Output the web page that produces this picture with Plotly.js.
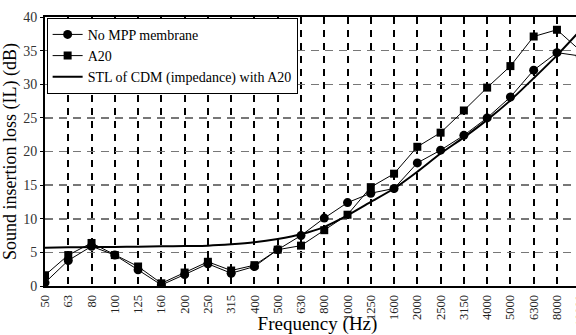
<!DOCTYPE html>
<html>
<head>
<meta charset="utf-8">
<script src="https://cdn.plot.ly/plotly-3.0.1.min.js"></script>
<style>
html, body { margin: 0; padding: 0; overflow: hidden; background: #fff; width: 576px; height: 335px; }
#chart { width: 600px; height: 335px; }
</style>
</head>
<body>
<div id="chart"></div>
<script>
const freqLabels = ["50","63","80","100","125","160","200","250","315","400","500","630","800","1000","1250","1600","2000","2500","3150","4000","5000","6300","8000","10000"];
const noMpp = [0.5,3.8,5.9,4.6,2.4,0.15,1.7,3.3,1.9,2.9,5.4,7.5,10.1,12.4,13.8,14.5,18.3,20.2,22.4,25.0,28.1,32.1,34.7,34.2];
const a20   = [1.6,4.6,6.4,4.6,2.9,0.4,2.0,3.6,2.3,3.1,5.4,6.0,8.3,10.6,14.7,16.7,20.7,22.8,26.1,29.5,32.7,37.1,38.1,35.0];
const stl   = [5.7,5.75,5.8,5.8,5.85,5.9,5.95,6.0,6.2,6.5,7.0,7.7,8.8,10.5,12.5,14.5,17.0,19.7,22.1,24.7,27.6,30.9,34.3,38.0];
const names = ["No MPP membrane","A20","STL of CDM (impedance) with A20"];

const serif = "Liberation Serif";
const traces = [
  {x: freqLabels, y: noMpp, name: names[0], type: "scatter", mode: "lines+markers",
   line: {color: "#000", width: 1}, marker: {symbol: "circle", size: 9, color: "#000"}},
  {x: freqLabels, y: a20, name: names[1], type: "scatter", mode: "lines+markers",
   line: {color: "#000", width: 1}, marker: {symbol: "square", size: 8, color: "#000"}},
  {x: freqLabels, y: stl, name: names[2], type: "scatter", mode: "lines",
   line: {color: "#000", width: 2, shape: "spline", smoothing: 0.6}}
];

const layout = {
  width: 600, height: 335,
  margin: {l: 45, r: 10, t: 16.5, b: 49},
  paper_bgcolor: "#fff", plot_bgcolor: "#fff",
  font: {family: serif, size: 14, color: "#000"},
  showlegend: true,
  legend: {x: 0.003, y: 0.997, xanchor: "left", yanchor: "top",
           bgcolor: "#fff", bordercolor: "#000", borderwidth: 1,
           font: {family: serif, size: 14, color: "#000"},
           tracegroupgap: 0, itemwidth: 30},
  xaxis: {
    type: "category", range: [0, 23.42],
    tickangle: -90, tickfont: {family: serif, size: 12.5, color: "#222"},
    showgrid: true, gridcolor: "#000", gridwidth: 2, griddash: "7px,6px",
    showline: true, linecolor: "#000", linewidth: 2, mirror: true,
    ticks: "outside", ticklen: 2, tickcolor: "rgba(0,0,0,0)", zeroline: false,
    title: {text: "Frequency (Hz)", font: {family: serif, size: 19, color: "#000"}, standoff: 0}
  },
  yaxis: {
    range: [0, 40], dtick: 5, tick0: 0,
    tickfont: {family: serif, size: 14, color: "#333"},
    showgrid: true, gridcolor: "#777", gridwidth: 1.5, griddash: "8px,6px",
    showline: true, linecolor: "#000", linewidth: 2, mirror: true,
    ticks: "outside", ticklen: 3, tickcolor: "#000",
    zeroline: false,
    title: {text: "Sound insertion loss (IL) (dB)", font: {family: serif, size: 18, color: "#000"}, standoff: 2}
  }
};

Plotly.newPlot("chart", traces, layout, {displayModeBar: false, staticPlot: true});
</script>
</body>
</html>
